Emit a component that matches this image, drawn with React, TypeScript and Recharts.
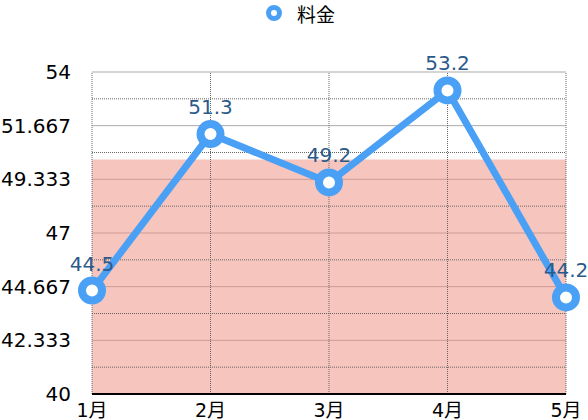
import React from "react";
import {
  LineChart,
  Line,
  XAxis,
  YAxis,
  CartesianGrid,
  ReferenceLine,
  ReferenceArea,
  LabelList,
  Legend,
} from "recharts";

const categories = ["1月", "2月", "3月", "4月", "5月"];
const feeValues = [44.5, 51.3, 49.2, 53.2, 44.2];
const yTicks = [40, 42.333, 44.667, 47, 49.333, 51.667, 54];
const yMinorTicks = [41.167, 43.5, 45.833, 48.167, 50.5, 52.833];
const bandRange = [40, 50.2];
const seriesName = "料金";

const data = categories.map((c, i) => ({ month: c, fee: feeValues[i] }));

const FONT = '"DejaVu Sans", "Noto Sans CJK JP", sans-serif';
const CJK = '"Noto Sans CJK JP", sans-serif';
const BLUE = "#4aa0f5";

const LegendContent = () => (
  <div
    style={{
      display: "flex",
      justifyContent: "center",
      alignItems: "center",
      fontFamily: CJK,
      fontSize: 19,
      color: "#000",
      height: 26,
      paddingLeft: 34,
    }}
  >
    <svg width={18} height={18} style={{ marginRight: 14 }}>
      <circle cx={9} cy={9} r={5.5} fill="#fff" stroke={BLUE} strokeWidth={5} />
    </svg>
    <span>{seriesName}</span>
  </div>
);

export default function App() {
  return (
    <div style={{ position: "absolute", left: 0, top: 0, background: "#fff" }}>
      <LineChart
        width={588}
        height={420}
        data={data}
        margin={{ top: 46, right: 22, bottom: 0, left: 0 }}
      >
        <Legend verticalAlign="top" content={<LegendContent />} wrapperStyle={{ top: 0 }} />
        <ReferenceArea
          y1={bandRange[0]}
          y2={bandRange[1]}
          fill="#ec8c7e"
          fillOpacity={0.5}
          stroke="none"
        />
        <CartesianGrid horizontal vertical={false} stroke="#aaaaaa" strokeWidth={1} />
        {yMinorTicks.map((v) => (
          <ReferenceLine
            key={"m" + v}
            y={v}
            stroke="#666"
            strokeDasharray="1 1"
            strokeWidth={1}
          />
        ))}
        {categories.map((c) => (
          <ReferenceLine
            key={"v" + c}
            x={c}
            stroke="#666"
            strokeDasharray="1 1"
            strokeWidth={1}
          />
        ))}
        <XAxis
          dataKey="month"
          axisLine={{ stroke: "#000", strokeWidth: 2 }}
          tickLine={false}
          tickSize={0}
          tickMargin={10}
          height={26}
          tick={{ fill: "#000", fontSize: 19, fontFamily: FONT }}
          interval={0}
        />
        <YAxis
          domain={[40, 54]}
          ticks={yTicks}
          tickFormatter={(v) => String(v)}
          axisLine={false}
          tickLine={false}
          tickSize={0}
          tickMargin={21}
          width={92}
          tick={{ fill: "#000", fontSize: 20, fontFamily: FONT }}
          interval={0}
        />
        <Line
          type="linear"
          dataKey="fee"
          name={seriesName}
          stroke={BLUE}
          strokeWidth={7}
          dot={{ r: 10, fill: "#fff", stroke: BLUE, strokeWidth: 8 }}
          activeDot={false}
          isAnimationActive={false}
        >
          <LabelList
            dataKey="fee"
            position="top"
            offset={20}
            fill="#2b5a8a"
            fontSize={20}
            fontFamily={FONT}
          />
        </Line>
      </LineChart>
    </div>
  );
}
